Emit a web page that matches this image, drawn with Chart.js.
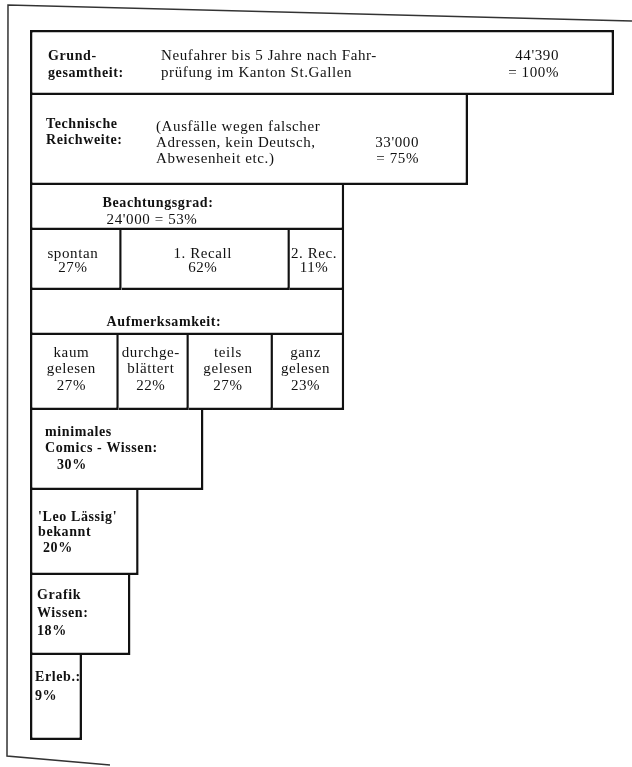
<!DOCTYPE html>
<html>
<head>
<meta charset="utf-8">
<script src="https://cdn.jsdelivr.net/npm/chart.js@4.4.1/dist/chart.umd.min.js"></script>
<style>
    html, body { margin: 0; padding: 0; background: #ffffff; }
    #chartTrichter { display: block; }
</style>
</head>
<body>
<canvas id="chartTrichter" width="632" height="767"></canvas>
<script>
// Rows of the funnel, top to bottom
const rowKeys = ['grund', 'reichweite', 'beachtung', 'recall', 'aufmerksamkeit', 'lesetiefe', 'comics', 'leo', 'grafik', 'erlebnis'];

// How far each box reaches, in % of the base population
const rowReach = [100, 75, 53.8, 53.8, 53.8, 53.8, 29.7, 18.6, 17.2, 8.9];

// Cut points inside the two divided rows (same % scale)
const recallCuts = [15.7, 44.5];
const attentionCuts = [15.2, 27.2, 41.6];

// Texts printed in the boxes
const headLabels = [['Grund-', 'gesamtheit:'], ['Technische', 'Reichweite:']];
const headTexts = [
    ['Neufahrer bis 5 Jahre nach Fahr-', 'prüfung im Kanton St.Gallen'],
    ['(Ausfälle wegen falscher', 'Adressen, kein Deutsch,', 'Abwesenheit etc.)']
];
const headCounts = [["44'390", '= 100%'], ["33'000", '= 75%']];
const beachtungText = ['Beachtungsgrad:', "24'000 = 53%"];
const recallParts = [['spontan', '27%'], ['1. Recall', '62%'], ['2. Rec.', '11%']];
const attentionTitle = 'Aufmerksamkeit:';
const attentionParts = [['kaum', 'gelesen', '27%'], ['durchge-', 'blättert', '22%'], ['teils', 'gelesen', '27%'], ['ganz', 'gelesen', '23%']];
const tailLabels = [
    ['minimales', 'Comics - Wissen:', '30%'],
    ["'Leo Lässig'", 'bekannt', '20%'],
    ['Grafik', 'Wissen:', '18%'],
    ['Erleb.:', '9%']
];

// Layout only: height of each row in units of the y axis
const rowUnits = [13, 18, 9, 12, 9, 15, 16, 17, 16, 17];

const LINE = 2.5;
const INK = '#111111';

// one category per layout unit
const unitRow = [];
rowUnits.forEach((n, r) => {
    for (let i = 0; i < n; i++) unitRow.push(r);
});
const firstUnit = r => rowUnits.slice(0, r).reduce((a, b) => a + b, 0);

// every box is a floating bar [from, to] repeated over the units of its row
const boxes = [];
rowReach.forEach((reach, r) => {
    const cuts = r === 3 ? recallCuts : (r === 5 ? attentionCuts : []);
    const edges = [0, ...cuts, reach];
    for (let i = 0; i < edges.length - 1; i++) {
        boxes.push({ row: r, from: edges[i], to: edges[i + 1], first: i === 0 });
    }
});

const datasets = boxes.map(box => {
    const start = firstUnit(box.row);
    const end = start + rowUnits[box.row] - 1;
    return {
        data: unitRow.map(r => r === box.row ? [box.from, box.to] : null),
        borderWidth: ctx => ({
            top: ctx.dataIndex === 0 ? LINE : 0,
            bottom: ctx.dataIndex === end ? LINE : 0,
            left: box.first ? LINE : 0,
            right: LINE
        })
    };
});

// the torn page edge around the figure
const pageEdge = {
    id: 'pageEdge',
    beforeDraw(chart) {
        const ctx = chart.ctx;
        ctx.save();
        ctx.strokeStyle = '#333333';
        ctx.lineWidth = 1.5;
        ctx.beginPath();
        ctx.moveTo(632, 21);
        ctx.lineTo(8, 5);
        ctx.lineTo(7, 756);
        ctx.lineTo(110, 765);
        ctx.stroke();
        ctx.restore();
    }
};

// writes the texts into the boxes
const boxText = {
    id: 'boxText',
    afterDatasetsDraw(chart) {
        const { ctx, scales: { x, y } } = chart;
        const band = y.getPixelForValue(1) - y.getPixelForValue(0);
        const top = r => y.getPixelForValue(firstUnit(r)) - band / 2;
        const px = v => x.getPixelForValue(v);
        const left = px(0);

        function write(text, tx, ty, bold, align) {
            ctx.font = bold ? "bold 14px 'Liberation Serif'" : "15px 'Liberation Serif'";
            ctx.textAlign = align || 'left';
            ctx.fillText(text, tx, ty);
        }

        ctx.save();
        ctx.fillStyle = INK;
        ctx.textBaseline = 'middle';
        ctx.letterSpacing = '0.6px';

        // Grundgesamtheit
        headLabels[0].forEach((t, i) => write(t, left + 18, top(0) + 26 + i * 17, true));
        headTexts[0].forEach((t, i) => write(t, left + 131, top(0) + 26 + i * 17, false));
        headCounts[0].forEach((t, i) => write(t, px(rowReach[0]) - 55, top(0) + 26 + i * 17, false, 'right'));

        // Technische Reichweite
        headLabels[1].forEach((t, i) => write(t, left + 16, top(1) + 29 + i * 16, true));
        headTexts[1].forEach((t, i) => write(t, left + 126, top(1) + 32 + i * 16, false));
        headCounts[1].forEach((t, i) => write(t, px(rowReach[1]) - 49, top(1) + 48 + i * 16, false, 'right'));

        // Beachtungsgrad
        write(beachtungText[0], left + 128, top(2) + 18, true, 'center');
        write(beachtungText[1], left + 122, top(2) + 35, false, 'center');

        const recallEdges = [0, ...recallCuts, rowReach[3]];
        recallParts.forEach((lines, k) => {
            const cx = (px(recallEdges[k]) + px(recallEdges[k + 1])) / 2 - 3;
            lines.forEach((t, i) => write(t, cx, top(3) + 24 + i * 14, false, 'center'));
        });

        // Aufmerksamkeit
        write(attentionTitle, left + 134, top(4) + 32, true, 'center');

        const attentionEdges = [0, ...attentionCuts, rowReach[5]];
        attentionParts.forEach((lines, k) => {
            const cx = (px(attentionEdges[k]) + px(attentionEdges[k + 1])) / 2 - 3;
            lines.forEach((t, i) => write(t, cx, top(5) + 18 + i * 16.5, false, 'center'));
        });

        // lower boxes
        const tailPos = [
            { dx: 15, dy: 22, step: 16.5, pct: 12 },
            { dx: 8, dy: 27, step: 15.5, pct: 5 },
            { dx: 7, dy: 20, step: 18, pct: 0 },
            { dx: 5, dy: 22, step: 19, pct: 0 }
        ];
        tailLabels.forEach((lines, k) => {
            const p = tailPos[k];
            lines.forEach((t, i) => {
                const indent = i === lines.length - 1 ? p.pct : 0;
                write(t, left + p.dx + indent, top(6 + k) + p.dy + i * p.step, true);
            });
        });

        ctx.restore();
    }
};

const chart = new Chart(document.getElementById('chartTrichter'), {
    type: 'bar',
    data: {
        labels: unitRow.map((r, i) => rowKeys[r] + '-' + i),
        datasets: datasets
    },
    options: {
        indexAxis: 'y',
        responsive: false,
        animation: false,
        events: [],
        layout: {
            padding: { left: 30, right: 18, top: 30, bottom: 27 }
        },
        datasets: {
            bar: {
                grouped: false,
                barPercentage: 1,
                categoryPercentage: 1
            }
        },
        elements: {
            bar: {
                backgroundColor: '#ffffff',
                borderColor: INK,
                borderSkipped: false,
                inflateAmount: 0
            }
        },
        plugins: {
            legend: { display: false },
            tooltip: { enabled: false }
        },
        scales: {
            x: { type: 'linear', min: 0, max: 100, display: false },
            y: { type: 'category', display: false, offset: true }
        }
    },
    plugins: [pageEdge, boxText]
});
</script>
</body>
</html>
